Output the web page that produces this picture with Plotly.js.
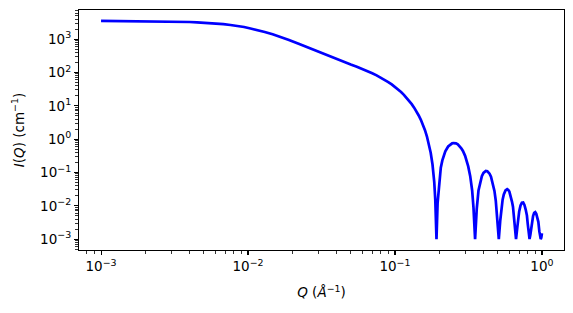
<!DOCTYPE html>
<html><head><meta charset="utf-8">
<script src="https://cdn.plot.ly/plotly-3.0.1.min.js"></script>
<style>html,body{margin:0;padding:0;background:#fff}#chart{width:573px;height:313px}</style>
</head><body><div id="chart"></div>
<script>
// Q values (1/Å) and intensities (1/cm)
const q = [0.001, 0.0015, 0.002, 0.0025, 0.003, 0.0035, 0.004, 0.0045, 0.005, 0.0055, 0.006, 0.0068, 0.0076, 0.0085, 0.0094,
  0.0104, 0.0115, 0.013, 0.0147, 0.0167, 0.019, 0.0221, 0.025, 0.0281, 0.031, 0.0346, 0.038, 0.042, 0.046,
  0.05, 0.055, 0.06, 0.065, 0.07, 0.075, 0.08, 0.085, 0.09, 0.095, 0.10, 0.105, 0.11, 0.115, 0.12, 0.125, 0.13, 0.135,
  0.14, 0.145, 0.15, 0.155, 0.16, 0.165, 0.17, 0.175, 0.18, 0.185, 0.188, 0.1916, 0.195,
  0.20, 0.205, 0.21, 0.215, 0.22, 0.23, 0.24, 0.245, 0.25, 0.255, 0.26, 0.2675, 0.275, 0.2825, 0.29, 0.30, 0.315, 0.325, 0.335, 0.342, 0.3508, 0.36,
  0.37, 0.38, 0.39, 0.40, 0.405, 0.415, 0.425, 0.4325, 0.44, 0.45, 0.465, 0.475, 0.485, 0.495, 0.5087, 0.52,
  0.53, 0.54, 0.55, 0.565, 0.58, 0.59, 0.60, 0.615, 0.625, 0.635, 0.645, 0.655, 0.6662, 0.68,
  0.69, 0.70, 0.715, 0.73, 0.745, 0.76, 0.775, 0.79, 0.80, 0.81, 0.8235, 0.835,
  0.845, 0.855, 0.87, 0.885, 0.90, 0.915, 0.93, 0.945, 0.96, 0.97, 0.9808, 0.99, 1.0];
const intensity = [3520, 3492, 3462, 3424, 3379, 3325, 3264, 3196, 3121, 3040, 2955, 2811, 2660, 2487, 2315,
  2090, 1890, 1640, 1395, 1172, 945, 722, 578, 471, 397, 328, 278, 233, 199,
  172, 148, 127.5, 110, 95, 81.8, 70.4, 60.3, 51.4, 43.7, 36.9, 30.9, 25.8, 21.3, 17.4, 14.0, 11.2, 8.79,
  6.8, 5.13, 3.78, 2.70, 1.85, 1.20, 0.725, 0.391, 0.173, 0.0515, 0.0149, 0.001, 0.0123,
  0.0614, 0.139, 0.230, 0.330, 0.428, 0.600, 0.715, 0.747, 0.762, 0.760, 0.743, 0.694, 0.621, 0.533, 0.441, 0.315, 0.152, 0.0774, 0.0287, 0.0089, 0.001, 0.0081,
  0.0286, 0.0527, 0.0774, 0.0964, 0.1034, 0.1106, 0.1087, 0.1021, 0.0917, 0.0742, 0.0455, 0.0279, 0.0142, 0.0054, 0.001, 0.0035,
  0.0091, 0.0152, 0.0218, 0.029, 0.0314, 0.0299, 0.0266, 0.0188, 0.0134, 0.0094, 0.0047, 0.0020, 0.001, 0.0023,
  0.0045, 0.0068, 0.0102, 0.0124, 0.0125, 0.0106, 0.0077, 0.0051, 0.0029, 0.0016, 0.001, 0.0014,
  0.0023, 0.0036, 0.0049, 0.0061, 0.0064, 0.0057, 0.0044, 0.0033, 0.0017, 0.0012, 0.001, 0.0011, 0.0015];

const xTickVals = [0.001, 0.01, 0.1, 1];
const xTickText = ['10<sup>−3</sup>', '10<sup>−2</sup>', '10<sup>−1</sup>', '10<sup>0</sup>'];
const yTickVals = [0.001, 0.01, 0.1, 1, 10, 100, 1000];
const yTickText = ['10<sup>−3</sup>', '10<sup>−2</sup>', '10<sup>−1</sup>', '10<sup>0</sup>', '10<sup>1</sup>', '10<sup>2</sup>', '10<sup>3</sup>'];

function minorTicks(lo, hi) {
  const v = [];
  for (let d = lo; d <= hi; d++) for (let k = 2; k <= 9; k++) v.push(k * Math.pow(10, d));
  return v;
}

const font = {family: 'DejaVu Sans', size: 13.5, color: '#000'};
const axisCommon = {
  type: 'log', showgrid: false, zeroline: false, showline: true, linecolor: '#000', linewidth: 1.1,
  mirror: true, ticks: 'outside', ticklen: 4, tickwidth: 1.1, tickcolor: '#000', tickmode: 'array',
  tickfont: font
};

const trace = {x: q, y: intensity, type: 'scatter', mode: 'lines',
  line: {color: '#0000ff', width: 2.7}, hoverinfo: 'skip'};

const layout = {
  width: 573, height: 313,
  margin: {l: 79, r: 9, t: 10, b: 63},
  paper_bgcolor: '#fff', plot_bgcolor: '#fff',
  showlegend: false,
  font: font,
  xaxis: Object.assign({}, axisCommon, {
    range: [-3.15, 0.15], tickvals: xTickVals, ticktext: xTickText,
    minor: {tickmode: 'array', tickvals: minorTicks(-4, 0), ticks: 'outside', ticklen: 2.5, tickwidth: 0.8, tickcolor: '#000', showgrid: false},
    title: {text: '<i>Q</i> (<i>Å</i><sup>−1</sup>)', font: font, standoff: 14}
  }),
  yaxis: Object.assign({}, axisCommon, {
    range: [-3.327, 3.874], tickvals: yTickVals, ticktext: yTickText,
    minor: {tickmode: 'array', tickvals: minorTicks(-4, 3), ticks: 'outside', ticklen: 2.5, tickwidth: 0.8, tickcolor: '#000', showgrid: false},
    title: {text: '<i>I</i>(<i>Q</i>) (cm<sup>−1</sup>)', font: font, standoff: 12}
  })
};

Plotly.newPlot('chart', [trace], layout, {staticPlot: true, displayModeBar: false});
</script>
</body></html>
